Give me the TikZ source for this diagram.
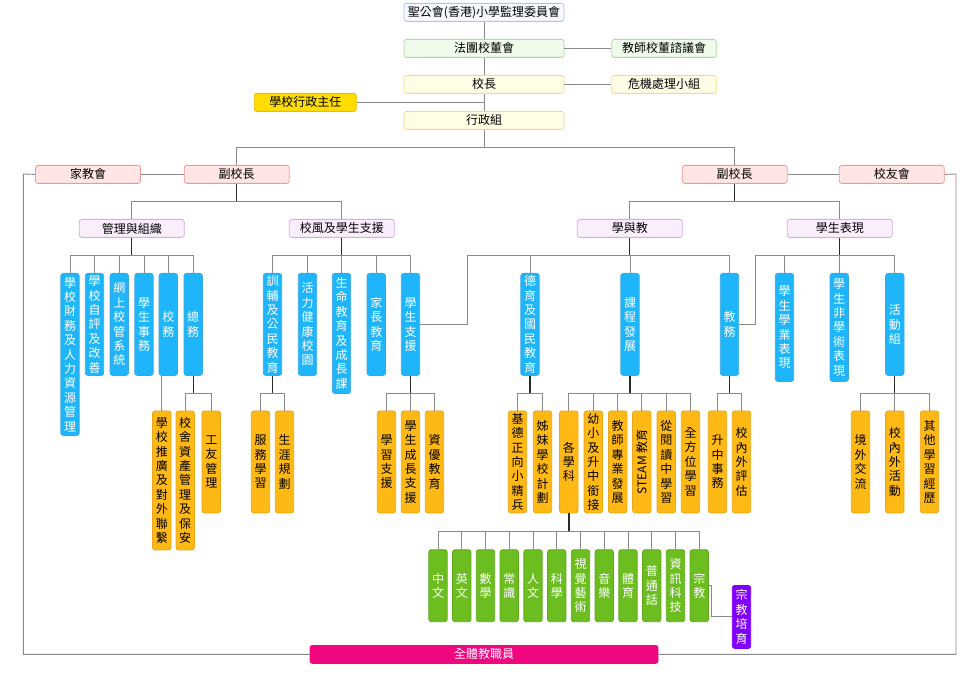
\documentclass[tikz,border=0pt]{standalone}
\usepackage{fontspec}
\usepackage{graphicx}
\setmainfont{Noto Sans CJK TC}
\newfontfamily\cjkfont{Noto Sans CJK TC}
\definecolor{govfill}{HTML}{F6FAFF}
\definecolor{govdraw}{HTML}{A6C8EE}
\definecolor{grfill}{HTML}{EFFCEB}
\definecolor{grdraw}{HTML}{A9DCA0}
\definecolor{ylfill}{HTML}{FFFDE6}
\definecolor{yldraw}{HTML}{F2D98C}
\definecolor{goldfill}{HTML}{FFDD00}
\definecolor{golddraw}{HTML}{E5C000}
\definecolor{pkfill}{HTML}{FFE6E4}
\definecolor{pkdraw}{HTML}{EE9A94}
\definecolor{lvfill}{HTML}{FAEEFD}
\definecolor{lvdraw}{HTML}{D2AEE0}
\definecolor{bluefill}{HTML}{1FB5FB}
\definecolor{bluedraw}{HTML}{3AA8E2}
\definecolor{orfill}{HTML}{FFB915}
\definecolor{ordraw}{HTML}{E8A818}
\definecolor{gnfill}{HTML}{6CBD1F}
\definecolor{gndraw}{HTML}{5FA81C}
\definecolor{ppfill}{HTML}{8000FF}
\definecolor{mgfill}{HTML}{F0067E}
\definecolor{stemc}{HTML}{2A2A2A}
\definecolor{branchc}{HTML}{8A8A8A}
\tikzset{
  nodebase/.style={draw, rounded corners=2.5pt, font=\cjkfont\fontsize{12}{14.4}\selectfont,
    inner sep=0pt, line width=0.8pt, anchor=north, align=center},
  hbox/.style={nodebase, minimum width=160pt, minimum height=18pt},
  govbox/.style={hbox, fill=govfill, draw=govdraw},
  grbox/.style={hbox, fill=grfill, draw=grdraw},
  ylbox/.style={hbox, fill=ylfill, draw=yldraw},
  goldbox/.style={hbox, fill=goldfill, draw=golddraw},
  pkbox/.style={hbox, minimum width=105pt, fill=pkfill, draw=pkdraw},
  lvbox/.style={hbox, minimum width=105pt, fill=lvfill, draw=lvdraw},
  vbox/.style={nodebase, minimum width=18.4pt, minimum height=102pt},
  bluebox/.style={vbox, fill=bluefill, draw=bluedraw, text=white},
  orangebox/.style={vbox, fill=orfill, draw=ordraw, text=black},
  greenbox/.style={vbox, minimum height=72pt, fill=gnfill, draw=gndraw, text=white},
  purplebox/.style={vbox, minimum height=63pt, fill=ppfill, draw=ppfill, text=white},
  magbox/.style={hbox, minimum width=348pt, fill=mgfill, draw=mgfill, text=white},
  stem/.style={draw=stemc, line width=1.1pt},
  branch/.style={draw=branchc, line width=0.9pt},
}
\begin{document}
\begin{tikzpicture}[x=1pt,y=-1pt]
\useasboundingbox (0,0) rectangle (977,676);
% ---------- top ----------
\node[govbox] (gov) at (484,3) {聖公會(香港)小學監理委員會};
\node[grbox] (imc) at (484,39) {法團校董會};
\node[grbox, minimum width=104.6pt] (tac) at (664,39) {教師校董諮議會};
\node[ylbox] (prin) at (484,75) {校長};
\node[ylbox, minimum width=104.6pt] (crisis) at (664,75) {危機處理小組};
\node[goldbox, minimum width=102pt] (admo) at (305.3,93) {學校行政主任};
\node[ylbox] (xz) at (484,111) {行政組};
% ---------- vice principals ----------
\node[pkbox] (vpL) at (236.7,165) {副校長};
\node[pkbox] (pta) at (88,165) {家教會};
\node[pkbox] (vpR) at (734.7,165) {副校長};
\node[pkbox] (alum) at (891.8,165) {校友會};
% ---------- domains ----------
\node[lvbox] (mgmt) at (131.8,219) {管理與組織};
\node[lvbox] (ethos) at (341.8,219) {校風及學生支援};
\node[lvbox] (lt) at (629.8,219) {學與教};
\node[lvbox] (perf) at (839.8,219) {學生表現};
% ---------- blue ----------
\node[bluebox, minimum height=162pt] (b1) at (70,273) {學\\校\\財\\務\\及\\人\\力\\資\\源\\管\\理};
\node[bluebox] (b2) at (94.5,273) {學\\校\\自\\評\\及\\改\\善};
\node[bluebox] (b3) at (119.3,273) {網\\上\\校\\管\\系\\統};
\node[bluebox] (b4) at (144,273) {學\\生\\事\\務};
\node[bluebox] (b5) at (168.3,273) {校\\務};
\node[bluebox] (b6) at (193.2,273) {總\\務};
\node[bluebox] (b7) at (272.5,273) {訓\\輔\\及\\公\\民\\教\\育};
\node[bluebox] (b8) at (307.5,273) {活\\力\\健\\康\\校\\園};
\node[bluebox, minimum height=120pt] (b9) at (341.5,273) {生\\命\\教\\育\\及\\成\\長\\課};
\node[bluebox] (b10) at (376.3,273) {家\\長\\教\\育};
\node[bluebox] (b11) at (410.5,273) {學\\生\\支\\援};
\node[bluebox] (b12) at (530,273) {德\\育\\及\\國\\民\\教\\育};
\node[bluebox] (b13) at (630,273) {課\\程\\發\\展};
\node[bluebox] (b14) at (729.5,273) {教\\務};
\node[bluebox, minimum height=108pt] (b15) at (784.5,273) {學\\生\\學\\業\\表\\現};
\node[bluebox, minimum height=108pt] (b16) at (839.2,273) {學\\生\\非\\學\\術\\表\\現};
\node[bluebox] (b17) at (894.8,273) {活\\動\\組};
% ---------- orange ----------
\node[orangebox, minimum height=139pt] (o1) at (161.8,410.5) {學\\校\\推\\廣\\及\\對\\外\\聯\\繫};
\node[orangebox, minimum height=139pt] (o2) at (185.2,410.5) {校\\舍\\資\\產\\管\\理\\及\\保\\安};
\node[orangebox] (o3) at (211.3,410.5) {工\\友\\管\\理};
\node[orangebox] (o4) at (260.5,410.5) {服\\務\\學\\習};
\node[orangebox] (o5) at (284.5,410.5) {生\\涯\\規\\劃};
\node[orangebox] (o6) at (386.5,410.5) {學\\習\\支\\援};
\node[orangebox] (o7) at (410.5,410.5) {學\\生\\成\\長\\支\\援};
\node[orangebox] (o8) at (434.5,410.5) {資\\優\\教\\育};
\node[orangebox] (o9) at (517.5,410.5) {基\\德\\正\\向\\小\\精\\兵};
\node[orangebox] (o10) at (542.5,410.5) {姊\\妹\\學\\校\\計\\劃};
\node[orangebox] (o11) at (568.8,410.5) {各\\學\\科};
\node[orangebox] (o12) at (593.3,410.5) {幼\\小\\及\\升\\中\\銜\\接};
\node[orangebox] (o13) at (617.7,410.5) {教\\師\\專\\業\\發\\展};
\node[orangebox] (o14) at (641.8,410.5) {\rotatebox{90}{STEAM 教育}};
\node[orangebox] (o15) at (666.3,410.5) {從\\閱\\讀\\中\\學\\習};
\node[orangebox] (o16) at (690.5,410.5) {全\\方\\位\\學\\習};
\node[orangebox] (o17) at (717.5,410.5) {升\\中\\事\\務};
\node[orangebox] (o18) at (741.5,410.5) {校\\內\\外\\評\\估};
\node[orangebox] (o19) at (860.5,410.5) {境\\外\\交\\流};
\node[orangebox] (o20) at (894.8,410.5) {校\\內\\外\\活\\動};
\node[orangebox] (o21) at (929.5,410.5) {其\\他\\學\\習\\經\\歷};
% ---------- subjects ----------
\node[greenbox] (g1) at (438,549.3) {中\\文};
\node[greenbox] (g2) at (461.75,549.3) {英\\文};
\node[greenbox] (g3) at (485.5,549.3) {數\\學};
\node[greenbox] (g4) at (509.25,549.3) {常\\識};
\node[greenbox] (g5) at (533,549.3) {人\\文};
\node[greenbox] (g6) at (556.75,549.3) {科\\學};
\node[greenbox] (g7) at (580.5,549.3) {視\\覺\\藝\\術};
\node[greenbox] (g8) at (604.25,549.3) {音\\樂};
\node[greenbox] (g9) at (628,549.3) {體\\育};
\node[greenbox] (g10) at (651.75,549.3) {普\\通\\話};
\node[greenbox] (g11) at (675.5,549.3) {資\\訊\\科\\技};
\node[greenbox] (g12) at (699.25,549.3) {宗\\教};
\node[purplebox] (rel) at (741.5,585) {宗\\教\\培\\育};
\node[magbox] (all) at (484,645) {全體教職員};
% ---------- connectors: top ----------
\draw[branch] (gov.south) -- (imc.north);
\draw[branch] (imc.south) -- (prin.north);
\draw[branch] (prin.south) -- (xz.north);
\draw[branch] (imc.east) -- (tac.west);
\draw[branch] (prin.east) -- (crisis.west);
\draw[branch] (admo.east) -- (admo.east -| xz.north);
\coordinate (bar1) at (484,147);
\draw[branch] (xz.south) -- (bar1);
\draw[branch] (vpL.north) |- (bar1);
\draw[branch] (vpR.north) |- (bar1);
\draw[branch] (pta.east) -- (vpL.west);
\draw[branch] (vpR.east) -- (alum.west);
\coordinate (fl) at (23.3,174);
\coordinate (fr) at (956,174);
\draw[branch] (pta.west) -- (fl) |- (all.west);
\draw[branch] (alum.east) -- (fr) |- (all.east);
% ---------- vice principals to domains ----------
\draw[stem] (vpL.south) -- (vpL.south |- 0,201);
\draw[stem] (vpR.south) -- (vpR.south |- 0,201);
\foreach \c in {mgmt,ethos} \draw[branch] (\c.north) |- (vpL.south |- 0,201);
\foreach \c in {lt,perf} \draw[branch] (\c.north) |- (vpR.south |- 0,201);
% ---------- domains to blue ----------
\foreach \p in {mgmt,ethos,lt,perf} \draw[stem] (\p.south) -- (\p.south |- 0,255);
\foreach \c in {b1,b2,b3,b4,b5,b6} \draw[branch] (\c.north) |- (mgmt.south |- 0,255);
\foreach \c in {b7,b8,b9,b10,b11} \draw[branch] (\c.north) |- (ethos.south |- 0,255);
\foreach \c in {b12,b13,b14} \draw[branch] (\c.north) |- (lt.south |- 0,255);
\foreach \c in {b15,b16,b17} \draw[branch] (\c.north) |- (perf.south |- 0,255);
\coordinate (j1) at (467,255);
\coordinate (j2) at (755.5,255);
\draw[branch] (b11.east) -| (j1) -- (lt.south |- j1);
\draw[branch] (b14.east) -| (j2) -- (perf.south |- j2);
% ---------- blue to orange ----------
\draw[branch] (b5.south -| o1.north) -- (o1.north);
\foreach \p in {b6,b7,b11,b12,b13,b14,b17} \draw[stem] (\p.south) -- (\p.south |- 0,393);
\foreach \c in {o2,o3} \draw[branch] (\c.north) |- (b6.south |- 0,393);
\foreach \c in {o4,o5} \draw[branch] (\c.north) |- (b7.south |- 0,393);
\foreach \c in {o6,o7,o8} \draw[branch] (\c.north) |- (b11.south |- 0,393);
\foreach \c in {o9,o10} \draw[branch] (\c.north) |- (b12.south |- 0,393);
\foreach \c in {o11,o12,o13,o14,o15,o16} \draw[branch] (\c.north) |- (b13.south |- 0,393);
\foreach \c in {o17,o18} \draw[branch] (\c.north) |- (b14.south |- 0,393);
\foreach \c in {o19,o20,o21} \draw[branch] (\c.north) |- (b17.south |- 0,393);
% ---------- subjects ----------
\draw[stem, line width=1.6pt] (o11.south) -- (o11.south |- 0,531);
\foreach \c in {g1,g2,g3,g4,g5,g6,g7,g8,g9,g10,g11,g12} \draw[branch] (\c.north) |- (o11.south |- 0,531);
\draw[branch] (g12.east) -- ++(3,0) |- (rel.west);
\end{tikzpicture}
\end{document}
